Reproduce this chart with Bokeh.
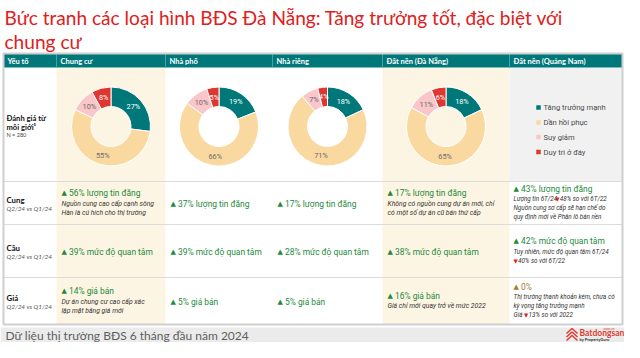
import math
from bokeh.plotting import figure
from bokeh.models import ColumnDataSource, Range1d
from bokeh.embed import file_html
from bokeh.resources import INLINE
from bokeh.core.properties import value

# ---------------- data ----------------
title_lines = ["Bức tranh các loại hình BĐS Đà Nẵng: Tăng trưởng tốt, đặc biệt với", "chung cư"]
columns = ["Yếu tố", "Chung cư", "Nhà phố", "Nhà riêng", "Đất nền (Đà Nẵng)", "Đất nền (Quảng Nam)"]
categories = ["Tăng trưởng mạnh", "Dần hồi phục", "Suy giảm", "Duy trì ở đáy"]
donut_types = ["Chung cư", "Nhà phố", "Nhà riêng", "Đất nền (Đà Nẵng)"]
tang_truong_manh = [27, 19, 18, 18]
dan_hoi_phuc = [55, 66, 71, 65]
suy_giam = [10, 10, 7, 11]
duy_tri_o_day = [8, 5, 4, 6]

row_labels = [["Đánh giá từ", "môi giới¹"], ["Cung"], ["Cầu"], ["Giá"]]
row_sublabels = ["N = 280", "Q2/24 vs Q1/24", "Q2/24 vs Q1/24", "Q2/24 vs Q1/24"]

supply_pct = [56, 37, 17, 17, 43]
demand_pct = [39, 39, 28, 38, 42]
price_pct = [14, 5, 5, 16, 0]
supply_notes = [["Nguồn cung cao cấp cạnh sông", "Hàn là cú hích cho thị trường"], [], [],
                ["Không có nguồn cung dự án mới, chỉ", "có một số dự án cũ bán thứ cấp"],
                ["Lượng tin 6T/24 ▼48% so với 6T/22", "Nguồn cung sơ cấp sẽ hạn chế do",
                 "quy định mới về Phân lô bán nền"]]
demand_notes = [[], [], [], [], ["Tuy nhiên, mức độ quan tâm 6T/24", "▼40% so với 6T/22"]]
price_notes = [["Dự án chung cư cao cấp xác", "lập mặt bằng giá mới"], [], [],
               ["Giá chỉ mới quay trở về mức 2022"],
               ["Thị trường thanh khoản kém, chưa có", "kỳ vọng tăng trưởng mạnh", "Giá ▼13% so với 2022"]]
footer_text = "Dữ liệu thị trường BĐS 6 tháng đầu năm 2024"

# ---------------- style / layout ----------------
TEAL = "#00787a"
cat_colors = ["#00787a", "#fad9a1", "#f9c6c9", "#de3730"]
label_colors = ["white", "#6b6b6b", "#6b6b6b", "white"]
CREAM = "#fdf5e4"
GREEN = "#23893a"
RED_T = "#e0201b"
col_edges = [3, 56, 165, 272, 382, 509, 622]
row_edges = [53, 67, 181, 224, 277, 324]

W, H = 624, 342
p = figure(width=W, height=H, x_range=Range1d(0, W), y_range=Range1d(0, H),
           output_backend="svg", toolbar_location=None, min_border=0,
           x_axis_type=None, y_axis_type=None)
p.grid.visible = False
p.outline_line_color = None


def Y(py):
    return H - py


def txt(xs, ys, texts, size, color, font="Roboto", style="normal", align="left", baseline="middle"):
    src = ColumnDataSource(dict(x=xs, y=[Y(v) for v in ys], t=texts))
    p.text(x="x", y="y", text="t", source=src, text_font=value(font), text_font_size=f"{size}px",
           text_color=color, text_font_style=style, text_align=align, text_baseline=baseline)


def est_w(s, size):
    w = 0
    for ch in s:
        if ch in "iltfjr/ ,.1I":
            w += 0.27
        elif ch.isdigit():
            w += 0.56
        elif ch.isupper():
            w += 0.62
        elif ch == "%":
            w += 0.72
        elif ch in "mw":
            w += 0.8
        else:
            w += 0.5
    return w * size


# title
txt([4, 4], [17, 41], title_lines, 19.1, RED_T, font="Lato")

# backgrounds
p.quad(left=[col_edges[1], col_edges[4]], right=[col_edges[2], col_edges[5]],
       top=[Y(row_edges[1])] * 2, bottom=[Y(row_edges[-1])] * 2, fill_color=CREAM, line_color=None)
p.quad(left=[col_edges[5]], right=[col_edges[6]], top=[Y(row_edges[1])], bottom=[Y(row_edges[2])],
       fill_color="#f1f1f1", line_color=None)
# header
p.quad(left=[col_edges[0]], right=[col_edges[-1]], top=[Y(row_edges[0])], bottom=[Y(row_edges[1])],
       fill_color=TEAL, line_color=None)
p.segment(x0=col_edges[1:-1], x1=col_edges[1:-1], y0=[Y(row_edges[0])] * 5, y1=[Y(row_edges[1])] * 5,
          line_color="#4aa0a1", line_width=1)
txt([e + 4 for e in col_edges[:-1]], [60.5] * 6, columns, 7.5, "white", font="Lato", style="bold")
# row separators and frame
p.segment(x0=[col_edges[0]] * 3, x1=[col_edges[-1]] * 3, y0=[Y(r) for r in row_edges[2:5]],
          y1=[Y(r) for r in row_edges[2:5]], line_color="#dcdcdc", line_width=1)
p.quad(left=[col_edges[0]], right=[col_edges[-1]], top=[Y(row_edges[0])], bottom=[Y(row_edges[-1])],
       fill_color=None, line_color="#cfcfcf", line_width=2)

# donuts
R_OUT, R_IN, CY = 39.5, 20, 126
series = [tang_truong_manh, dan_hoi_phuc, suy_giam, duy_tri_o_day]
for j in range(len(donut_types)):
    cx = (col_edges[j + 1] + col_edges[j + 2]) / 2
    vals = [s[j] for s in series]
    tot = sum(vals)
    cum = 0
    starts, ends, lx, ly, lt = [], [], [], [], []
    for v in vals:
        a0 = math.pi / 2 - 2 * math.pi * cum / tot
        a1 = math.pi / 2 - 2 * math.pi * (cum + v) / tot
        starts.append(a0)
        ends.append(a1)
        mid = (a0 + a1) / 2
        rr = (R_OUT + R_IN) / 2
        lx.append(cx + rr * math.cos(mid))
        ly.append(Y(CY) + rr * math.sin(mid))
        lt.append(f"{v}%")
        cum += v
    src = ColumnDataSource(dict(x=[cx] * 4, y=[Y(CY)] * 4, s=starts, e=ends, c=cat_colors,
                                lx=lx, ly=ly, lt=lt, lc=label_colors))
    p.annular_wedge(x="x", y="y", inner_radius=R_IN, outer_radius=R_OUT, start_angle="s", end_angle="e",
                    direction="clock", fill_color="c", line_color="white", line_width=1, source=src)
    p.text(x="lx", y="ly", text="lt", text_color="lc", source=src, text_font=value("Roboto"),
           text_font_size="7.3px", text_align="center", text_baseline="middle")

# legend
leg_y = [107, 122, 136.5, 151.5]
p.scatter(x=[538] * 4, y=[Y(v) for v in leg_y], marker="square", size=4.5, fill_color=cat_colors,
          line_color=None)
txt([543] * 4, leg_y, categories, 7.6, "#4a4a4a")

# row labels
txt([6, 6], [117, 126], row_labels[0], 7.6, "#111", font="Lato", style="bold")
txt([6], [134.5], [row_sublabels[0]], 5.5, "#444", font="Lato")
label_y = [(199, 207.5), (247, 255.5), (297.5, 306)]
for k in range(3):
    txt([6], [label_y[k][0]], row_labels[k + 1], 7.8, "#111", font="Lato", style="bold")
    txt([6], [label_y[k][1]], [row_sublabels[k + 1]], 6.4, "#555", font="Lato", style="italic")


# cell texts
def draw_note(x, y, s, size):
    if "▼" in s:
        pre, post = s.split("▼")
        xt = x + (est_w(pre, size) * 0.92 + 1 if pre else 0)
        if pre:
            txt([x], [y], [pre], size, "#333", style="italic")
        txt([xt], [y], ["▼"], size - 0.8, "#e0201b", font="DejaVu Sans")
        txt([xt + 4.5], [y], [post], size, "#333", style="italic")
    else:
        txt([x], [y], [s], size, "#333", style="italic")


rows = [(supply_pct, "lượng tin đăng", supply_notes), (demand_pct, "mức độ quan tâm", demand_notes),
        (price_pct, "giá bán", price_notes)]
for k, (pcts, word, notes) in enumerate(rows):
    top, bot = row_edges[k + 2], row_edges[k + 3]
    cyr = (top + bot) / 2 + 0.5
    for j in range(5):
        x = col_edges[j + 1] + (4 if j == 4 else 5)
        nsize = 6.3 if j == 4 else 6.8
        n = len(notes[j])
        ys = [cyr + (i - n / 2) * 9.3 for i in range(n + 1)]
        if n:
            ys[0] -= 0.8
        pct = pcts[j]
        color = GREEN if pct > 0 else "#a47a2c"
        head = f"{pct}% {word}" if pct > 0 else f"{pct}%"
        txt([x], [ys[0]], ["▲"], 7, color, font="DejaVu Sans")
        txt([x + 7.5], [ys[0]], [head], 8.4, color)
        for i, s in enumerate(notes[j]):
            draw_note(x, ys[i + 1], s, nsize)

# footer
p.quad(left=[0], right=[W], top=[Y(327)], bottom=[Y(H)], fill_color="#ebebeb", line_color=None)
txt([5], [335], [footer_text], 12, "#5e5e5e", font="Lato")
# logo
p.multi_line(xs=[[566, 571.5, 577], [566, 571.5, 577], [566, 571.5, 577]],
             ys=[[Y(333), Y(328), Y(333)], [Y(336.5), Y(331.5), Y(336.5)], [Y(340), Y(335), Y(340)]],
             line_color="#e03c31", line_width=1.5)
txt([579], [332.5], ["Batdongsan"], 8.5, "#e03c31", font="Lato", style="bold")
txt([614], [328.5], [".com.vn"], 3.5, "#e03c31", font="Lato", align="right")
txt([579], [339], ["by PropertyGuru"], 4, "#333", font="Lato", style="bold")

open("out.html", "w").write(file_html(p, INLINE))
